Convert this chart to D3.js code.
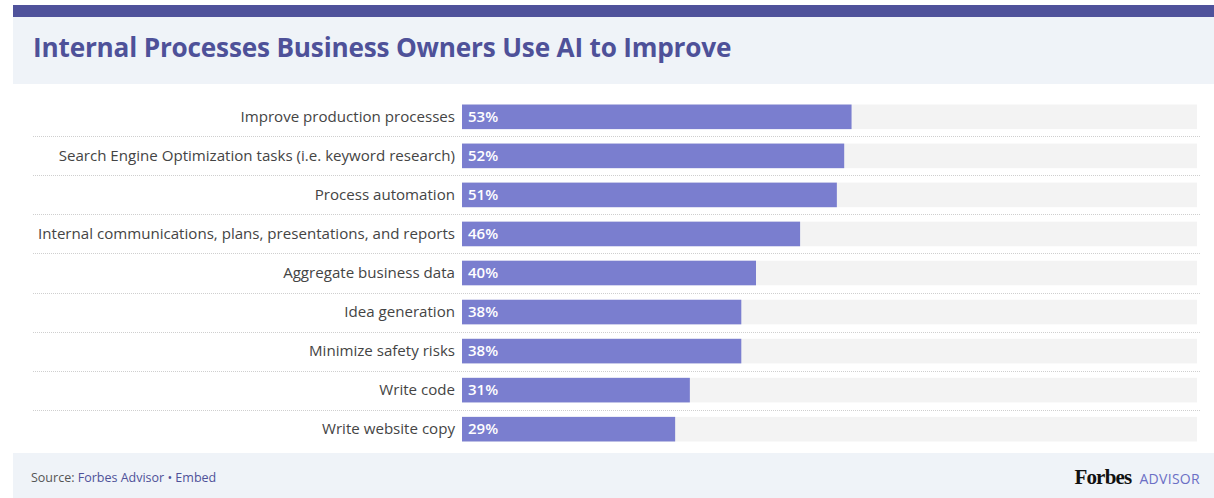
<!DOCTYPE html>
<html>
<head>
<meta charset="utf-8">
<script src="https://cdn.jsdelivr.net/npm/d3@7"></script>
<style>
  body { margin: 0; background: #fff; }
  svg { display: block; font-family: "Open Sans", "Noto Sans", sans-serif; }
</style>
</head>
<body>
<div class="chart"></div>
<script>
// data
var categories = [
  "Improve production processes",
  "Search Engine Optimization tasks (i.e. keyword research)",
  "Process automation",
  "Internal communications, plans, presentations, and reports",
  "Aggregate business data",
  "Idea generation",
  "Minimize safety risks",
  "Write code",
  "Write website copy"
];
var values = [53, 52, 51, 46, 40, 38, 38, 31, 29];
var title = "Internal Processes Business Owners Use AI to Improve";

(function(){
  var W = 1214, H = 498;
  var data = categories.map(function(c, i){ return {category: c, value: values[i]}; });

  var svg = d3.select(".chart").append("svg")
      .attr("width", W)
      .attr("height", H);

  // card header
  svg.append("rect").attr("x", 13).attr("y", 5).attr("width", W - 13).attr("height", 12).attr("fill", "#4f529b");
  svg.append("rect").attr("x", 13).attr("y", 17).attr("width", W - 13).attr("height", 67).attr("fill", "#eff3f8");
  svg.append("text")
      .attr("x", 33).attr("y", 57)
      .attr("fill", "#4e5199")
      .attr("font-size", 26.2)
      .attr("font-weight", 700)
      .attr("letter-spacing", -0.2)
      .text(title);

  // footer
  svg.append("rect").attr("x", 13).attr("y", 453).attr("width", W - 13).attr("height", H - 453).attr("fill", "#eff3f8");
  var src = svg.append("text").attr("x", 31).attr("y", 482).attr("font-size", 12.5);
  src.append("tspan").attr("fill", "#555").text("Source: ");
  src.append("tspan").attr("fill", "#4e5199").text("Forbes Advisor • Embed");

  var logo = svg.append("text").attr("x", 1200).attr("y", 484).attr("text-anchor", "end");
  logo.append("tspan")
      .attr("font-family", "'Liberation Serif', 'DejaVu Serif', serif")
      .attr("font-weight", 700).attr("font-size", 21).attr("letter-spacing", -0.8)
      .attr("fill", "#111").text("Forbes");
  logo.append("tspan")
      .attr("font-size", 14).attr("fill", "#6b6fc5").attr("dx", 8).attr("letter-spacing", 0.3)
      .text("ADVISOR");

  // scales
  var x = d3.scaleLinear().domain([0, 100]).range([462, 1197]);
  var y = d3.scaleBand().domain(categories).range([97.5, 448.5]).paddingInner(0.37).paddingOuter(0.18);
  var step = y.step();

  var rows = svg.append("g").selectAll("g.row").data(data).enter().append("g").attr("class", "row");

  // track
  rows.append("rect")
      .attr("x", x(0)).attr("y", function(d){ return y(d.category); })
      .attr("width", x(100) - x(0)).attr("height", y.bandwidth())
      .attr("fill", "#f3f3f3");

  // bar
  rows.append("rect")
      .attr("x", x(0)).attr("y", function(d){ return y(d.category); })
      .attr("width", function(d){ return x(d.value) - x(0); })
      .attr("height", y.bandwidth())
      .attr("fill", "#7a7ecf");

  // value labels
  rows.append("text")
      .attr("x", x(0) + 6)
      .attr("y", function(d){ return y(d.category) + y.bandwidth()/2; })
      .attr("dy", "0.35em")
      .attr("fill", "#fff").attr("font-size", 15).attr("font-weight", 600)
      .text(function(d){ return d.value + "%"; });

  // category labels
  rows.append("text")
      .attr("x", x(0) - 7)
      .attr("y", function(d){ return y(d.category) + y.bandwidth()/2; })
      .attr("dy", "0.35em")
      .attr("text-anchor", "end")
      .attr("fill", "#444").attr("font-size", 15.1)
      .text(function(d){ return d.category; });

  // dotted separators between rows
  svg.append("g").selectAll("line").data(categories.slice(1)).enter().append("line")
      .attr("x1", 33).attr("x2", 1200)
      .attr("y1", function(c){ return Math.round(y(c) - (step - y.bandwidth())/2) + 0.5; })
      .attr("y2", function(c){ return Math.round(y(c) - (step - y.bandwidth())/2) + 0.5; })
      .attr("stroke", "#cfcfcf").attr("stroke-dasharray", "1,1");
}());
</script>
</body>
</html>
